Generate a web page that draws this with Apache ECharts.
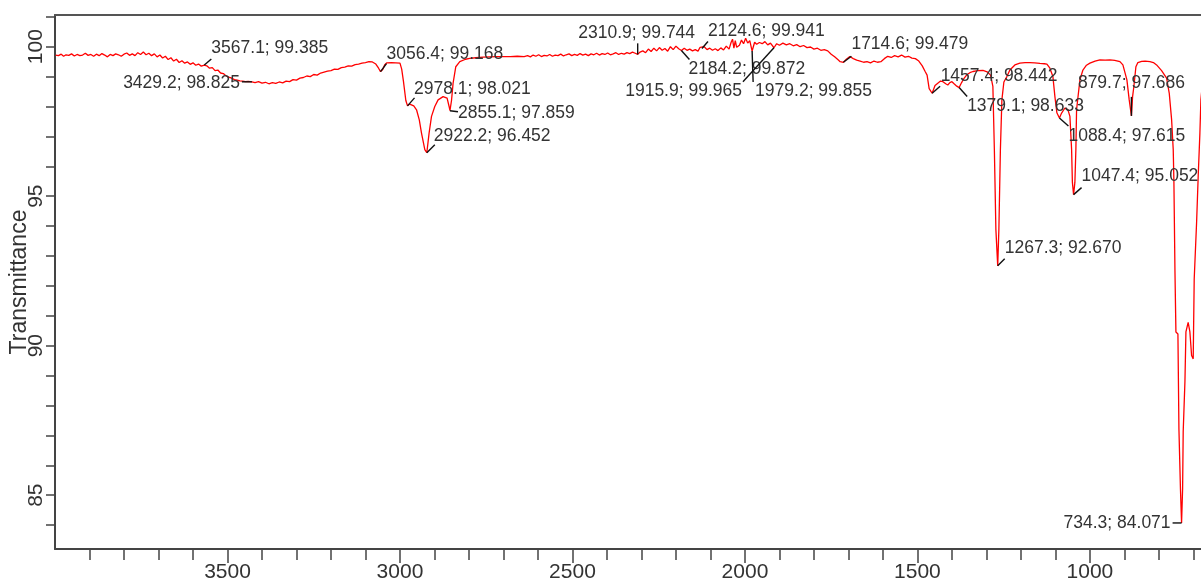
<!DOCTYPE html>
<html>
<head>
<meta charset="utf-8">
<title>IR spectrum</title>
<script src="https://cdn.jsdelivr.net/npm/echarts@6.0.0/dist/echarts.min.js"></script>
<style>
  html, body { margin: 0; padding: 0; background: #fff; }
  #chart { width: 1201px; height: 581px; }
</style>
</head>
<body>
<div id="chart"></div>
<script>
// Spectrum: wavenumber (cm-1) and transmittance (%)
const wavenumber = [
  3998, 3990, 3982, 3975, 3968, 3960, 3952, 3944, 3936, 3928, 3920, 3912, 3904, 3896, 3888, 3880,
  3872, 3864, 3856, 3848, 3840, 3832, 3824, 3816, 3808, 3800, 3792, 3784, 3776, 3768, 3760, 3752,
  3744, 3736, 3728, 3720, 3712, 3704, 3696, 3688, 3680, 3672, 3664, 3656, 3648, 3640, 3632, 3624,
  3616, 3608, 3600, 3592, 3584, 3576, 3567.1, 3560, 3552, 3544, 3536, 3528, 3520, 3512, 3504, 3496,
  3488, 3480, 3472, 3464, 3456, 3448, 3440, 3429.2, 3420, 3410, 3400, 3390, 3380, 3370, 3360, 3350,
  3340, 3330, 3320, 3310, 3300, 3290, 3280, 3270, 3260, 3250, 3240, 3230, 3220, 3210, 3200, 3190,
  3180, 3170, 3160, 3150, 3140, 3130, 3120, 3110, 3100, 3090, 3080, 3070, 3062, 3056.4, 3050, 3044,
  3038, 3025, 3012, 3000, 2995, 2990, 2983, 2978.1, 2972, 2966.6, 2960, 2952, 2944, 2937.6, 2928, 2922.2,
  2915.6, 2908.6, 2899.1, 2889.5, 2875, 2863.4, 2857.6, 2855.1, 2850.6, 2846, 2838.2, 2826.6, 2810, 2797.6, 2780, 2759,
  2740, 2720, 2700, 2680, 2660, 2640, 2630, 2622, 2614, 2606, 2598, 2590, 2582, 2574, 2566, 2558,
  2550, 2542, 2534, 2526, 2518, 2510, 2502, 2494, 2486, 2478, 2470, 2462, 2454, 2446, 2438, 2430,
  2422, 2414, 2406, 2398, 2390, 2382, 2374, 2366, 2358, 2350, 2342, 2334, 2326, 2318, 2310.9, 2304,
  2296, 2288, 2280, 2272, 2264, 2256, 2248, 2240, 2232, 2224, 2216, 2208, 2200, 2192, 2184.2, 2176,
  2168, 2160, 2152, 2144, 2136, 2130, 2124.6, 2118, 2110, 2102, 2094, 2086, 2078, 2070, 2062, 2054,
  2046, 2040, 2036, 2032, 2028, 2024, 2016, 2010, 2004, 1998, 1992, 1986, 1979.2, 1972, 1966, 1958,
  1950, 1942, 1934, 1926, 1915.9, 1908, 1900, 1890, 1880, 1870, 1860, 1850, 1840, 1830, 1820, 1810,
  1800, 1790, 1780, 1770, 1760, 1750, 1740, 1730, 1724, 1714.6, 1706, 1696, 1686, 1676, 1666, 1656,
  1646, 1636, 1626, 1616, 1606, 1596, 1586, 1576, 1566, 1556, 1546, 1536, 1526, 1516, 1506, 1496,
  1486, 1478, 1472, 1466, 1457.4, 1449, 1441, 1433, 1426, 1418, 1412, 1406, 1400, 1393, 1386, 1379.1,
  1372, 1366, 1357, 1348, 1339, 1325, 1310, 1298, 1288, 1281.3, 1277, 1272.6, 1267.3, 1263.9, 1259.5, 1255.2,
  1249.4, 1240.7, 1232, 1217.5, 1203, 1188, 1174, 1160, 1145, 1132, 1124.7, 1116, 1107.3, 1101.5, 1095.8, 1088.4,
  1082.1, 1072.5, 1063.8, 1058, 1053.1, 1050.8, 1047.4, 1043.6, 1040.7, 1038.7, 1029, 1020.3, 1010, 1000, 985, 971,
  956, 942, 928, 913, 904.4, 892.8, 886.1, 879.7, 876.3, 872.6, 866.7, 861, 850, 840, 826, 816,
  806.7, 792.2, 777.7, 770.1, 763.2, 758.5, 756.5, 753.5, 750.7, 744.9, 742, 737.6, 734.3, 731.3, 729.6, 724.6,
  721.7, 715.2, 710.2, 705.3, 700.6, 697.7, 690.8, 686.1, 681.2, 678.3, 672
];
const transmittance = [
  99.72, 99.70, 99.75, 99.68, 99.73, 99.71, 99.76, 99.69, 99.74, 99.70, 99.72, 99.78, 99.71, 99.74, 99.68, 99.75,
  99.70, 99.77, 99.72, 99.66, 99.74, 99.70, 99.76, 99.73, 99.68, 99.75, 99.79, 99.71, 99.76, 99.70, 99.80, 99.74,
  99.82, 99.73, 99.78, 99.70, 99.76, 99.66, 99.72, 99.62, 99.68, 99.57, 99.63, 99.52, 99.58, 99.47, 99.53, 99.45,
  99.49, 99.41, 99.46, 99.38, 99.42, 99.35, 99.385, 99.36, 99.28, 99.30, 99.20, 99.22, 99.12, 99.10, 99.02, 98.98,
  98.95, 98.90, 98.88, 98.86, 98.85, 98.83, 98.84, 98.825, 98.80, 98.83, 98.78, 98.81, 98.76, 98.80, 98.77, 98.82,
  98.79, 98.85, 98.83, 98.90, 98.88, 98.95, 98.97, 99.02, 99.00, 99.07, 99.05, 99.12, 99.15, 99.18, 99.20, 99.25,
  99.24, 99.30, 99.32, 99.36, 99.35, 99.40, 99.42, 99.45, 99.47, 99.50, 99.49, 99.42, 99.28, 99.168, 99.24, 99.40,
  99.46, 99.47, 99.46, 99.45, 99.25, 98.85, 98.20, 98.021, 98.08, 98.11, 98.02, 97.89, 97.55, 97.11, 96.56, 96.452,
  97.11, 97.67, 98.00, 98.22, 98.33, 98.28, 98.00, 97.859, 98.20, 98.78, 99.33, 99.50, 99.58, 99.61, 99.63, 99.65,
  99.66, 99.67, 99.67, 99.67, 99.68, 99.67, 99.70, 99.66, 99.72, 99.68, 99.73, 99.67, 99.71, 99.69, 99.74, 99.68,
  99.72, 99.70, 99.75, 99.69, 99.73, 99.76, 99.70, 99.74, 99.71, 99.77, 99.72, 99.75, 99.70, 99.76, 99.73, 99.78,
  99.72, 99.77, 99.74, 99.79, 99.73, 99.76, 99.80, 99.74, 99.78, 99.75, 99.80, 99.77, 99.82, 99.78, 99.744, 99.82,
  99.86, 99.80, 99.92, 99.84, 99.95, 99.86, 99.97, 99.88, 99.94, 99.85, 100.00, 99.90, 100.02, 99.93, 99.872, 99.95,
  99.88, 99.92, 99.86, 99.90, 99.85, 99.98, 99.941, 100.00, 99.90, 99.95, 99.88, 99.93, 99.87, 99.96, 99.89, 100.02,
  99.92, 100.15, 100.25, 99.95, 100.20, 99.98, 100.05, 100.22, 100.10, 100.28, 100.12, 100.20, 99.855, 100.15, 100.08, 100.14,
  100.10, 100.17, 100.06, 100.12, 99.965, 100.10, 100.05, 100.12, 100.06, 100.10, 100.03, 100.07, 100.00, 100.04, 99.97, 99.99,
  99.92, 99.95, 99.88, 99.90, 99.86, 99.75, 99.66, 99.56, 99.50, 99.479, 99.58, 99.67, 99.60, 99.55, 99.52, 99.48,
  99.50, 99.46, 99.52, 99.48, 99.50, 99.60, 99.68, 99.64, 99.70, 99.66, 99.72, 99.65, 99.68, 99.62, 99.60, 99.52,
  99.36, 99.18, 99.05, 98.60, 98.442, 98.70, 98.78, 98.85, 98.83, 98.76, 98.72, 98.80, 98.83, 98.75, 98.68, 98.633,
  98.80, 98.92, 99.06, 99.13, 99.17, 99.20, 99.21, 99.16, 99.05, 98.67, 96.56, 93.89, 92.670, 93.89, 96.56, 98.22,
  98.82, 99.00, 99.22, 99.39, 99.45, 99.47, 99.47, 99.46, 99.44, 99.43, 99.42, 99.28, 99.00, 98.33, 97.79, 97.615,
  97.78, 97.95, 97.89, 97.67, 96.56, 95.46, 95.052, 95.46, 96.56, 97.89, 98.89, 99.22, 99.38, 99.45, 99.52, 99.56,
  99.55, 99.56, 99.54, 99.50, 99.39, 98.89, 98.22, 97.686, 98.33, 98.67, 99.33, 99.47, 99.51, 99.52, 99.50, 99.47,
  99.39, 99.20, 98.95, 98.45, 97.56, 96.56, 95.46, 92.50, 90.46, 90.39, 87.22, 85.22, 84.071, 85.22, 87.12, 88.79,
  90.46, 90.78, 90.46, 89.67, 89.56, 92.22, 94.11, 95.67, 97.11, 98.22, 99.00
];

// Labelled band positions
const peakWavenumbers = [3567.1, 3429.2, 3056.4, 2978.1, 2922.2, 2855.1, 2310.9, 2184.2, 2124.6, 1979.2,
                         1915.9, 1714.6, 1457.4, 1379.1, 1267.3, 1088.4, 1047.4, 879.7, 734.3];
const peakTransmittance = [99.385, 98.825, 99.168, 98.021, 96.452, 97.859, 99.744, 99.872, 99.941, 99.855,
                           99.965, 99.479, 98.442, 98.633, 92.670, 97.615, 95.052, 97.686, 84.071];

// Axis tick values
const xMajorTicks = [1000, 1500, 2000, 2500, 3000, 3500];
const xMinorTicks = [700, 800, 900, 1000, 1100, 1200, 1300, 1400, 1500, 1600, 1700, 1800, 1900, 2000, 2100,
                     2200, 2300, 2400, 2500, 2600, 2700, 2800, 2900, 3000, 3100, 3200, 3300, 3400, 3500, 3600,
                     3700, 3800, 3900];
const yMajorTicks = [85, 90, 95, 100];
const yMinorTicks = [84, 85, 86, 87, 88, 89, 90, 91, 92, 93, 94, 95, 96, 97, 98, 99, 100, 101];

// Callout geometry (pixel offsets from the band point): leader end (lx, ly), text anchor (tx, ty)
const calloutLayout = [
  { lx: 7, ly: -6, tx: 7, ty: -17, align: 'left' },
  { lx: -10, ly: 0, tx: -12, ty: 1, align: 'right' },
  { lx: 6, ly: -8, tx: 6, ty: -17, align: 'left' },
  { lx: 7, ly: -8, tx: 6.5, ty: -17, align: 'left' },
  { lx: 8, ly: -8, tx: 7, ty: -17, align: 'left' },
  { lx: 8, ly: 1, tx: 8, ty: 2, align: 'left' },
  { lx: 0, ly: -11, tx: -1, ty: -21, align: 'center' },
  { lx: 8, ly: 9, tx: 7, ty: 19, align: 'left' },
  { lx: 6, ly: -7, tx: 6, ty: -17, align: 'left' },
  { lx: 1, ly: 31, tx: 3, ty: 40, align: 'left' },
  { lx: -31, ly: 34, tx: -32, ty: 43, align: 'right' },
  { lx: 8, ly: -6, tx: 8, ty: -18, align: 'left' },
  { lx: 8, ly: -7, tx: 8.5, ty: -17, align: 'left' },
  { lx: 8, ly: 9, tx: 8, ty: 19, align: 'left' },
  { lx: 7, ly: -7, tx: 7, ty: -18, align: 'left' },
  { lx: 9, ly: 8, tx: 9, ty: 18, align: 'left' },
  { lx: 8, ly: -7, tx: 8, ty: -18, align: 'left' },
  { lx: 0, ly: -19, tx: 0, ty: -33, align: 'center' },
  { lx: -9, ly: 0, tx: -11, ty: 0, align: 'right' }
];

const FONT = '"Liberation Sans", Arial, sans-serif';
const TEXT_COLOR = '#333';
const AXIS_COLOR = '#444';
const X_MIN = 678, X_MAX = 4000, Y_MIN = 83.2, Y_MAX = 101.06;

const spectrum = wavenumber.map((w, i) => [w, transmittance[i]]);
const peaks = peakWavenumbers.map((w, i) => [w, peakTransmittance[i]]);

const chart = echarts.init(document.getElementById('chart'), null, { renderer: 'canvas' });

chart.setOption({
  backgroundColor: '#fff',
  animation: false,
  grid: { left: 55, right: 0, top: 15, bottom: 32, containLabel: false, outerBoundsMode: 'none' },
  xAxis: [
    {
      type: 'value', min: X_MIN, max: X_MAX, inverse: true, position: 'bottom',
      axisLine: { show: true, onZero: false, lineStyle: { color: AXIS_COLOR, width: 2 } },
      axisTick: { show: true, length: 11, customValues: xMinorTicks, lineStyle: { color: AXIS_COLOR, width: 1.5 } },
      axisLabel: {
        customValues: xMajorTicks, fontSize: 21, fontFamily: FONT, color: TEXT_COLOR, margin: 13,
        formatter: function (v) { return String(v); }
      },
      splitLine: { show: false }
    },
    {
      type: 'value', min: X_MIN, max: X_MAX, inverse: true, position: 'bottom', offset: 0,
      axisLine: { show: false },
      axisTick: { show: true, length: 14, customValues: xMajorTicks, lineStyle: { color: AXIS_COLOR, width: 1.5 } },
      axisLabel: { show: false },
      splitLine: { show: false }
    },
    {
      type: 'value', min: X_MIN, max: X_MAX, inverse: true, position: 'top',
      axisLine: { show: true, onZero: false, lineStyle: { color: '#555', width: 2 } },
      axisTick: { show: false },
      axisLabel: { show: false },
      splitLine: { show: false }
    }
  ],
  yAxis: {
    type: 'value', min: Y_MIN, max: Y_MAX,
    name: 'Transmittance', nameLocation: 'middle', nameGap: 24, nameMoveOverlap: false,
    nameTextStyle: { fontSize: 23, fontFamily: FONT, color: TEXT_COLOR },
    axisLine: { show: true, onZero: false, lineStyle: { color: AXIS_COLOR, width: 2 } },
    axisTick: { show: true, length: 9, customValues: yMinorTicks, lineStyle: { color: AXIS_COLOR, width: 1.5 } },
    axisLabel: {
      customValues: yMajorTicks, rotate: 90, fontSize: 21, fontFamily: FONT, color: TEXT_COLOR, margin: 8,
      formatter: function (v) { return String(v); }
    },
    splitLine: { show: false }
  },
  series: [
    {
      type: 'line',
      xAxisIndex: 0, yAxisIndex: 0,
      data: spectrum,
      showSymbol: false,
      symbol: 'none',
      lineStyle: { color: '#ff0000', width: 1.3 },
      clip: true,
      z: 2
    },
    {
      type: 'custom',
      xAxisIndex: 0, yAxisIndex: 0,
      data: peaks,
      clip: false,
      z: 3,
      renderItem: function (params, api) {
        const i = params.dataIndex;
        const w = api.value(0), t = api.value(1);
        const p = api.coord([w, t]);
        const L = calloutLayout[i];
        const text = w.toFixed(1) + '; ' + t.toFixed(3);
        return {
          type: 'group',
          children: [
            {
              type: 'line',
              shape: { x1: p[0], y1: p[1], x2: p[0] + L.lx, y2: p[1] + L.ly },
              style: { stroke: '#111', lineWidth: 1.4 }
            },
            {
              type: 'text',
              style: {
                x: p[0] + L.tx, y: p[1] + L.ty, text: text,
                align: L.align, verticalAlign: 'middle',
                fontSize: 17.5, fontFamily: FONT, fill: TEXT_COLOR
              }
            }
          ]
        };
      }
    }
  ]
});
</script>
</body>
</html>
